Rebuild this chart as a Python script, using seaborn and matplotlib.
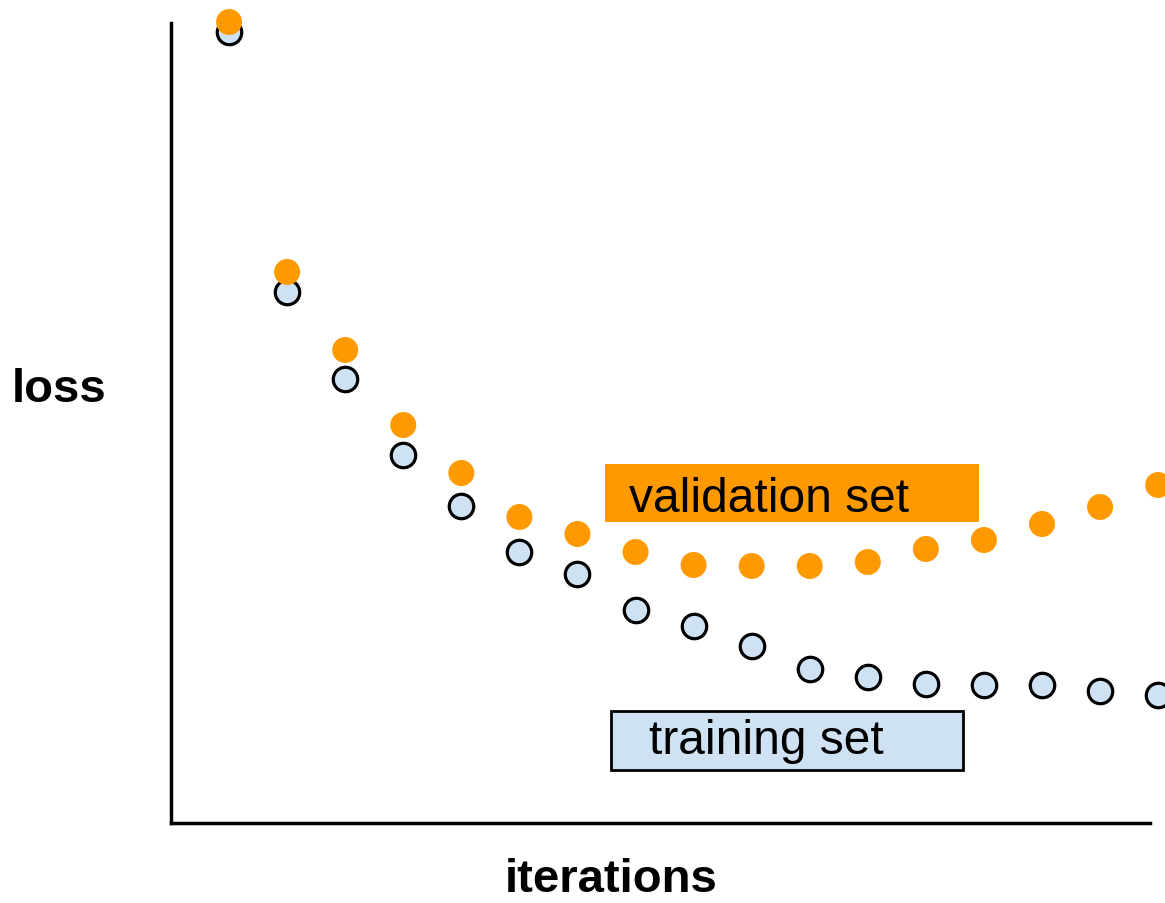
import matplotlib
matplotlib.use("Agg")
import matplotlib.pyplot as plt
import seaborn as sns
import pandas as pd
from matplotlib.patches import Rectangle

iterations = list(range(1, 18))
training_loss = [7.91, 5.31, 4.44, 3.68, 3.17, 2.71, 2.49, 2.13, 1.97, 1.77,
                 1.54, 1.46, 1.39, 1.38, 1.38, 1.32, 1.28]
validation_loss = [8.01, 5.51, 4.73, 3.98, 3.50, 3.06, 2.89, 2.71, 2.58, 2.57,
                   2.57, 2.61, 2.74, 2.83, 2.99, 3.16, 3.38]
labels = ["training set", "validation set"]

sns.set_style("white")
plt.rcParams['font.family'] = ['Liberation Sans', 'DejaVu Sans']
plt.rcParams['text.color'] = 'black'

W, H = 1165, 904
fig = plt.figure(figsize=(W / 100, H / 100), dpi=100)
ax = fig.add_axes([171 / W, 80 / H, (1150 - 171) / W, 800 / H])

df_t = pd.DataFrame({"iter": iterations, "loss": training_loss})
df_v = pd.DataFrame({"iter": iterations, "loss": validation_loss})

sns.scatterplot(data=df_t, x="iter", y="loss", ax=ax, s=310, color="#CFE2F3",
                edgecolor="black", linewidth=2.3, clip_on=False, zorder=3, legend=False)
sns.scatterplot(data=df_v, x="iter", y="loss", ax=ax, s=350, color="#FF9900",
                edgecolor="none", linewidth=0, clip_on=False, zorder=4, legend=False)

ax.set_xlim(0, 16.86)
ax.set_ylim(0, 8)
ax.set_xticks([])
ax.set_yticks([])
for side in ["top", "right"]:
    ax.spines[side].set_visible(False)
for side in ["left", "bottom"]:
    ax.spines[side].set_color("black")
    ax.spines[side].set_linewidth(2.5)
ax.set_xlabel("")
ax.set_ylabel("")

fig.text(12 / W, 1 - 390 / H, "loss", fontsize=34, fontweight="bold",
         ha="left", va="center", color="black")
fig.text(611 / W, 1 - 880 / H, "iterations", fontsize=34, fontweight="bold",
         ha="center", va="center", color="black")

# validation label box
fig.patches.append(Rectangle((605 / W, 1 - 523 / H), (979 - 605) / W, 58 / H,
                             transform=fig.transFigure, facecolor="#FF9900",
                             edgecolor="none", zorder=5))
fig.text(629 / W, 1 - 499 / H, labels[1], fontsize=34.5, ha="left", va="center",
         color="black", zorder=6)

# training label box
fig.patches.append(Rectangle((611 / W, 1 - 771 / H), (963 - 611) / W, 59 / H,
                             transform=fig.transFigure, facecolor="#CFE2F3",
                             edgecolor="black", linewidth=2, zorder=5))
fig.text(649 / W, 1 - 742 / H, labels[0], fontsize=34.5, ha="left", va="center",
         color="black", zorder=6)

fig.savefig("out.png", dpi=100)
